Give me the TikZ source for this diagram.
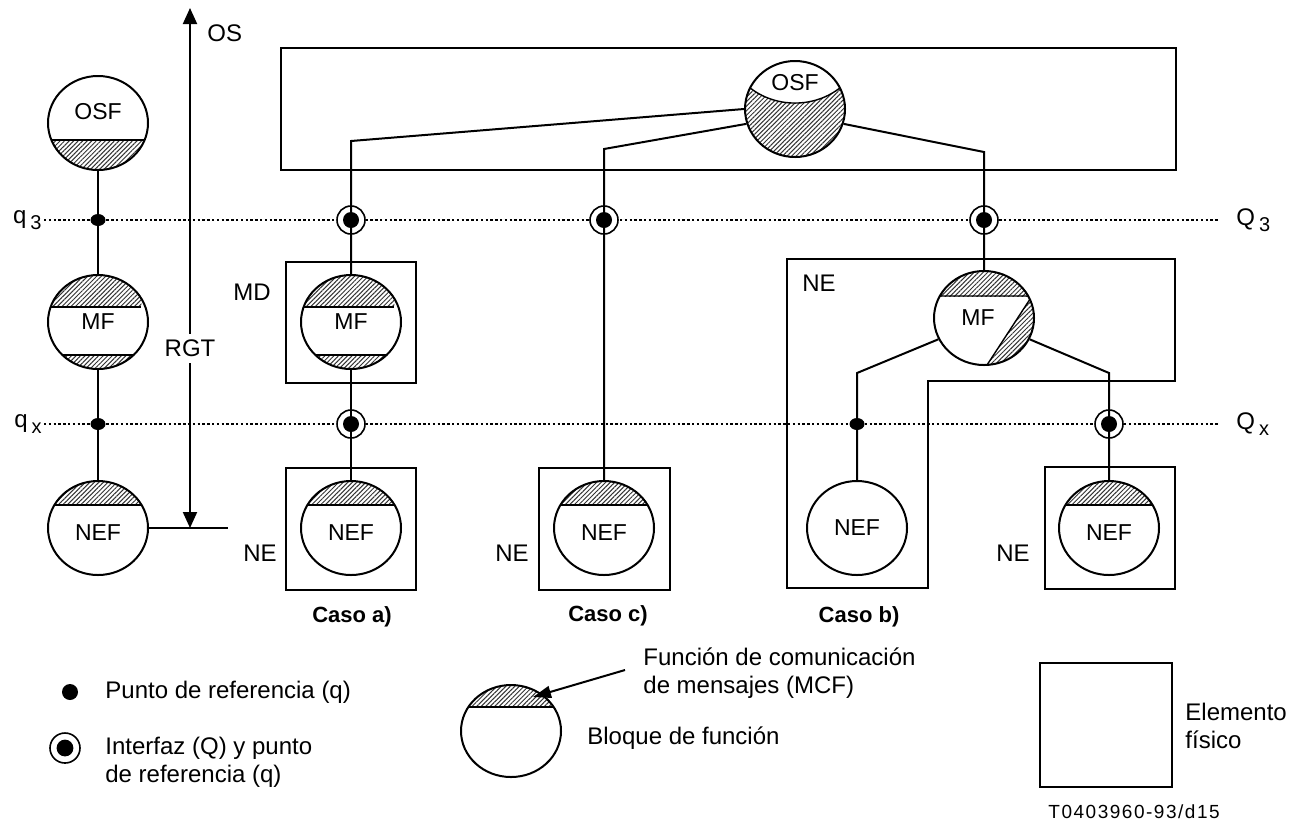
\documentclass[tikz,border=0pt]{standalone}
\usepackage{fontspec}
\setmainfont{Liberation Sans}
\usetikzlibrary{shapes.geometric,arrows.meta,patterns.meta,positioning}

\newcommand{\fbfont}{\fontsize{11.5}{13}\selectfont}
\newcommand{\lblfont}{\fontsize{12}{14}\selectfont}
\newcommand{\qsub}[1]{\,\raisebox{-3pt}{\fontsize{10}{12}\selectfont #1}}
\newcommand{\hatchtop}[1]{\fill[hatch] (-30pt,#1) rectangle (30pt,30pt); \draw[chord] (-30pt,#1) -- (30pt,#1);}
\newcommand{\hatchbot}[1]{\fill[hatch] (-30pt,#1) rectangle (30pt,-30pt); \draw[chord] (-30pt,#1) -- (30pt,#1);}

\tikzset{
  hatch/.style={pattern={Lines[angle=45,distance=1.6pt,line width=0.5pt]},pattern color=black!80},
  chord/.style={line width=0.7pt},
  fblock/.style={draw,ellipse,line width=1pt,minimum width=50pt,minimum height=47pt,inner sep=0pt,font=\fbfont},
  topband/.style={path picture={\begin{scope}[shift={(path picture bounding box.center)}]\hatchtop{#1}\end{scope}}},
  botband/.style={path picture={\begin{scope}[shift={(path picture bounding box.center)}]\hatchbot{#1}\end{scope}}},
  twoband/.style={path picture={\begin{scope}[shift={(path picture bounding box.center)}]\hatchtop{11.5pt}\hatchbot{-12.5pt}\end{scope}}},
  mfcut/.style={path picture={\begin{scope}[shift={(path picture bounding box.center)}]
    \fill[hatch] (-30pt,11pt) rectangle (30pt,30pt);
    \fill[hatch] (24pt,11pt) -- (1.5pt,-23.5pt) -- (1.5pt,-30pt) -- (30pt,-30pt) -- (30pt,11pt) -- cycle;
    \draw[chord] (-30pt,11pt) -- (24pt,11pt) -- (1.5pt,-23.5pt);
  \end{scope}}},
  osfcut/.style={path picture={\begin{scope}[shift={(path picture bounding box.center)}]
    \fill[hatch] (-30pt,11pt) -- (-23pt,11pt) .. controls (-10pt,0.3pt) and (10pt,0.3pt) .. (23pt,11pt) -- (30pt,11pt) -- (30pt,-30pt) -- (-30pt,-30pt) -- cycle;
    \draw[chord] (-23pt,11pt) .. controls (-10pt,0.3pt) and (10pt,0.3pt) .. (23pt,11pt);
  \end{scope}}},
  ifpoint/.style={circle,draw,fill=white,line width=0.8pt,minimum size=14pt,inner sep=0pt,
    path picture={\fill[black] (path picture bounding box.center) circle (#1);}},
  ifpoint/.default=4pt,
  refpoint/.style={ellipse,fill=black,minimum width=7.5pt,minimum height=6pt,inner sep=0pt},
  conn/.style={line width=1pt},
  refline/.style={line width=1.2pt,dash pattern=on 1.2pt off 1.2pt},
  ebox/.style={draw,line width=1pt},
  lbl/.style={font=\lblfont,inner sep=1pt},
  caso/.style={font=\fontsize{11}{13}\selectfont\bfseries,inner sep=1pt}
}

\begin{document}
\begin{tikzpicture}[x=0.5pt,y=-0.5pt]
\useasboundingbox (0,0) rectangle (1309,821);

% q3 / qx reference lines
\node[lbl,anchor=east] (lq3) at (44,220) {q\qsub{3}};
\node[lbl,anchor=west,inner xsep=9pt] (lQ3) at (1218,220) {Q\qsub{3}};
\node[lbl,anchor=east] (lqx) at (44,424) {q\qsub{x}};
\node[lbl,anchor=west,inner xsep=9pt] (lQx) at (1218,424) {Q\qsub{x}};
\draw[refline] (lq3) -- (lQ3);
\draw[refline] (lqx) -- (lQx);

% RGT arrow
\coordinate (osTip) at (190,8);
\coordinate (rgtTip) at (190,528);
\draw[conn,{Triangle[width=7pt,length=8pt]}-{Triangle[width=7pt,length=8pt]}] (osTip) -- node[lbl,pos=0.655,fill=white,inner ysep=3pt] (rgt) {RGT} (rgtTip);
\node[lbl,anchor=west] (os) at (205,33) {OS};

\draw[ebox] (281,48) rectangle (1176,170);

% left column
\node[fblock,botband=-8.5pt,label={[font=\fbfont,yshift=5.5pt]center:OSF}] (osfL) at (98,123) {};
\node[refpoint] (q3L) at (98,220) {};
\node[fblock,twoband] (mfL) at (98,322) {MF};
\node[refpoint] (qxL) at (98,424) {};
\node[fblock,topband=11.5pt,label={[font=\fbfont,yshift=-2.5pt]center:NEF}] (nefL) at (98,528) {};
\coordinate (rgtEnd) at (228,528);
\draw[conn] (osfL) -- (q3L.center) -- (mfL);
\draw[conn] (mfL) -- (qxL.center) -- (nefL);
\draw[conn] (nefL) -- (rgtEnd);

% caso a
\draw[ebox] (286,262) rectangle (416,383);
\node[lbl] (md) at (252,292) {MD};
\node[fblock,twoband] (mfA) at (351,322) {MF};
\draw[ebox] (286,468) rectangle (416,590);
\node[fblock,topband=11.5pt,label={[font=\fbfont,yshift=-2.5pt]center:NEF}] (nefA) at (351,528) {};
\node[lbl] (neA) at (260,553) {NE};
\node[caso] (casoA) at (352,617) {Caso a)};
\node[ifpoint] (ifA3) at (351,220) {};
\node[ifpoint] (ifAx) at (351,424) {};

% caso c
\draw[ebox] (539,468) rectangle (670,590);
\node[fblock,topband=11.5pt,label={[font=\fbfont,yshift=-2.5pt]center:NEF}] (nefC) at (604,528) {};
\node[lbl] (neC) at (512,553) {NE};
\node[caso] (casoC) at (608,616) {Caso c)};
\node[ifpoint] (ifC3) at (604,220) {};

% caso b
\draw[ebox] (787,259) -- (1175,259) -- (1175,381) -- (928,381) -- (928,588) -- (787,588) -- cycle;
\node[lbl] (neB) at (819,283) {NE};
\node[fblock,mfcut,label={[font=\fbfont,xshift=-3pt]center:MF}] (mfB) at (984,318) {};
\node[fblock] (nefB) at (857,528) {NEF};
\draw[ebox] (1045,467) rectangle (1175,589);
\node[fblock,topband=11.5pt,label={[font=\fbfont,yshift=-2.5pt]center:NEF}] (nefB2) at (1109,528) {};
\node[lbl] (neB2) at (1013,553) {NE};
\node[caso] (casoB) at (859,617) {Caso b)};
\node[ifpoint] (ifB3) at (984,220) {};
\node[refpoint] (qxB) at (857,424) {};
\node[ifpoint] (ifBx) at (1109,424) {};

\node[fblock,osfcut,minimum height=48pt,label={[font=\fbfont,yshift=13pt]center:OSF}] (osfB) at (795,109) {};

\coordinate (kA) at (351,141);
\coordinate (kC) at (604,149);
\coordinate (kB) at (984,152);
\coordinate (kBl) at (857,373);
\coordinate (kBr) at (1109,373);
\draw[conn] (osfB.west) -- (kA) -- (ifA3.center) -- (mfA);
\draw[conn] (mfA) -- (ifAx.center) -- (nefA);
\draw[conn] (osfB.197) -- (kC) -- (ifC3.center) -- (nefC);
\draw[conn] (osfB.-17) -- (kB) -- (ifB3.center) -- (mfB);
\draw[conn] (mfB.205) -- (kBl) -- (qxB.center) -- (nefB);
\draw[conn] (mfB.-25) -- (kBr) -- (ifBx.center) -- (nefB2);

% legend
\node[circle,fill=black,minimum size=8pt,inner sep=0pt] (legDot) at (70,692) {};
\node[lbl,anchor=west] (legDotText) at (103,692) {Punto de referencia (q)};
\node[ifpoint=4.2pt,minimum size=15pt] (legIf) at (65,748) {};
\node[lbl,anchor=west,align=left] (legIfText) at (103,762) {Interfaz (Q) y punto\\de referencia (q)};
\node[fblock,topband=12pt,minimum height=46pt] (legFb) at (511,731) {};
\node[lbl,anchor=west,align=left] (legMcf) at (641,673) {Función de comunicación\\de mensajes (MCF)};
\coordinate (mcfTip) at (533,697);
\draw[conn,-{Triangle[width=6pt,length=9pt]}] ([xshift=-8pt,yshift=1.5pt]legMcf.west) -- (mcfTip);
\node[lbl,anchor=west] (legFbText) at (585,738) {Bloque de función};
\draw[ebox] (1040,663) rectangle (1172,787);
\node[lbl,anchor=west,align=left] (legNe) at (1183,726) {Elemento\\físico};
\node[anchor=west,inner sep=1pt,font=\fontsize{9.5}{11}\selectfont\addfontfeatures{LetterSpace=8}] (figId) at (1046,812) {T0403960-93/d15};
\end{tikzpicture}
\end{document}
